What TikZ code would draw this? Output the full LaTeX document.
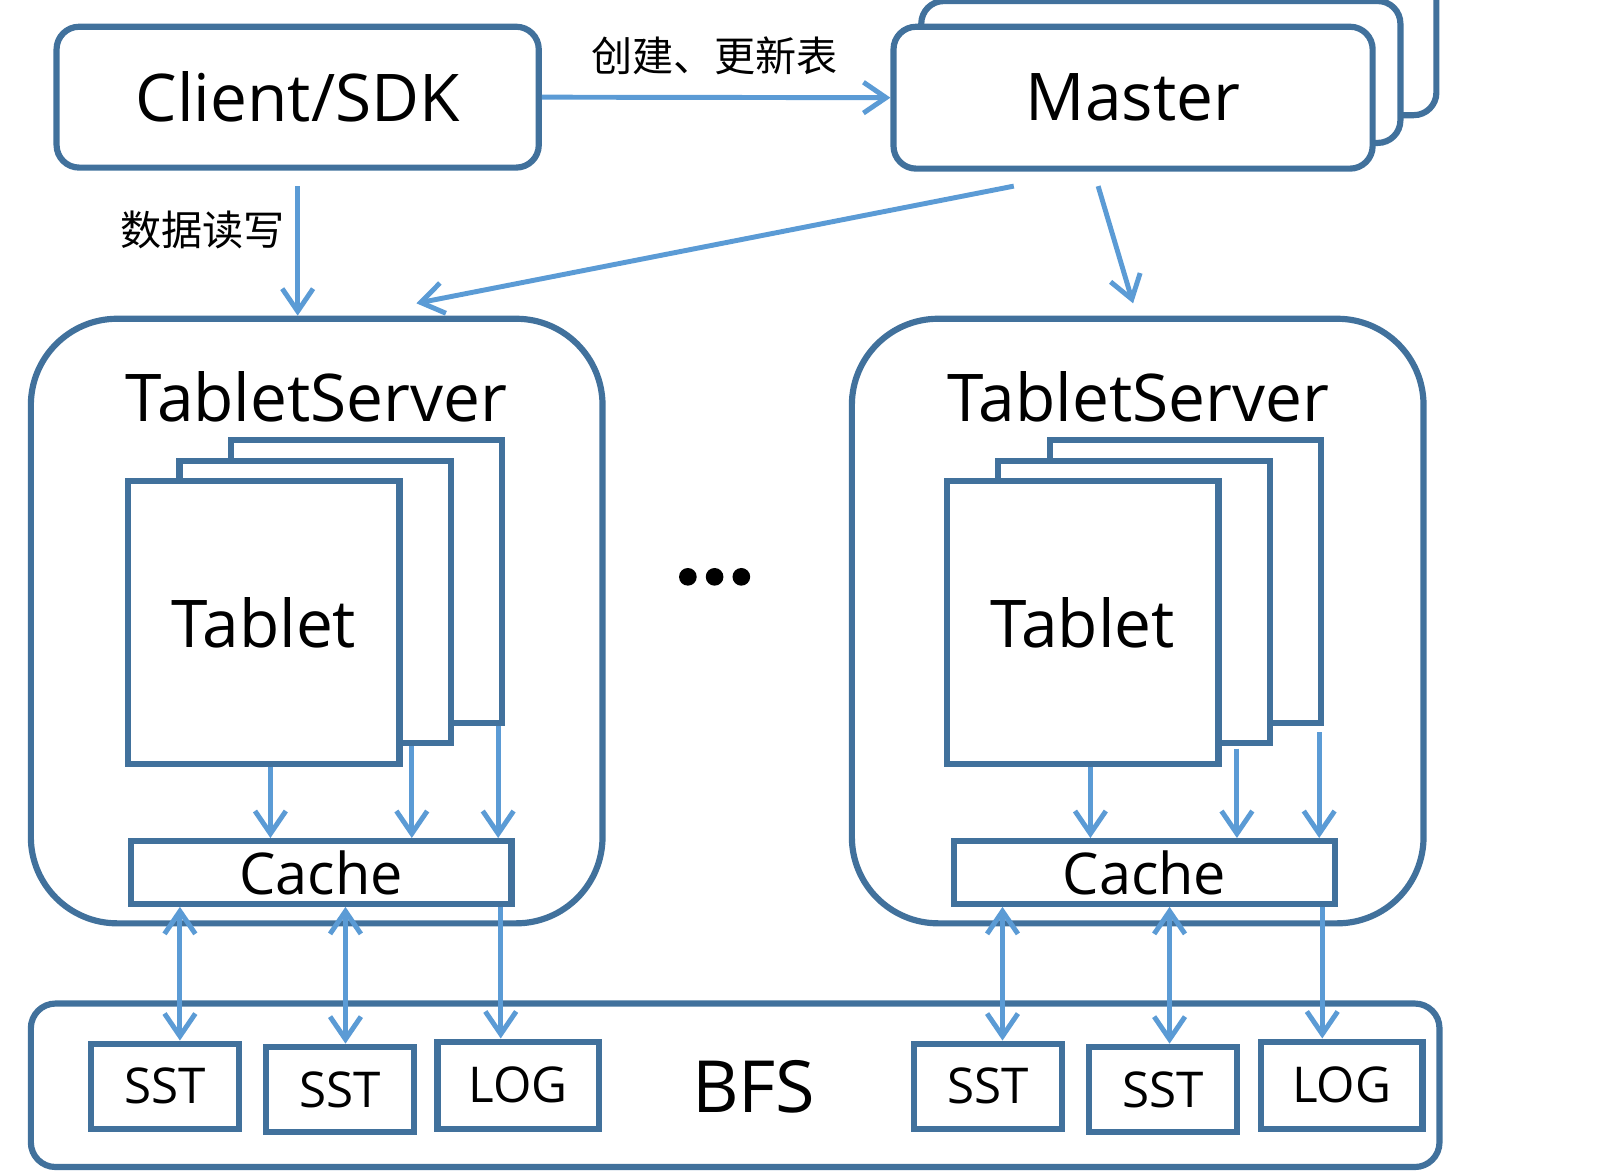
\documentclass[tikz,border=0pt]{standalone}
\usepackage{fontspec}
\setmainfont{Open Sans}
\newfontfamily\cjk{Noto Sans CJK SC}
\usetikzlibrary{arrows.meta}
\definecolor{boxblue}{HTML}{41719C}
\definecolor{linkblue}{HTML}{5B9BD5}
\newcommand{\boxfont}{\fontsize{32pt}{38pt}\selectfont}
\newcommand{\cachefont}{\fontsize{28pt}{34pt}\selectfont}
\newcommand{\filefont}{\fontsize{24pt}{29pt}\selectfont}
\newcommand{\bfsfont}{\fontsize{35pt}{42pt}\selectfont}
\tikzset{
    round-box/.style = {draw=boxblue, fill=white, line width=3pt, rectangle, rounded corners=11pt, inner sep=0pt},
    server-box/.style = {round-box, rounded corners=42pt, minimum width=278pt, minimum height=294pt},
    flat-box/.style = {draw=boxblue, fill=white, line width=3pt, rectangle, inner sep=0pt},
    tablet-box/.style = {flat-box, minimum width=132pt, minimum height=137.5pt},
    cache-box/.style = {flat-box, minimum width=185pt, minimum height=30.5pt, font=\cachefont},
    sst-box/.style = {flat-box, minimum width=72pt, minimum height=41.5pt, font=\filefont},
    log-box/.style = {flat-box, minimum width=78.5pt, minimum height=42.5pt, font=\filefont},
    link/.style = {draw=linkblue, line width=2.4pt, -{Straight Barb[length=11pt,width=15pt]}},
    two-way/.style = {link, {Straight Barb[length=11pt,width=15pt]}-{Straight Barb[length=11pt,width=15pt]}},
    edge-label/.style = {font=\cjk\fontsize{20pt}{24pt}\selectfont, inner sep=0pt},
}

\begin{document}
\begin{tikzpicture}[x=0.5pt,y=-0.5pt]
\useasboundingbox (0,0) rectangle (1560,1142);

% client and master stack
\node[round-box, minimum width=234.5pt, minimum height=68.5pt, font=\boxfont] (client) at (289.5,94.5) {Client/SDK};
\node[round-box, minimum width=233pt, minimum height=69pt] (master3) at (1164,43) {};
\node[round-box, minimum width=233pt, minimum height=69pt] (master2) at (1129,70) {};
\node[round-box, minimum width=233pt, minimum height=69pt, font=\boxfont] (master) at (1102,95) {Master};

% tablet servers
\node[server-box] (tsL) at (308,604) {};
\node[font=\boxfont, anchor=base] (tsLname) at (308,410) {TabletServer};
\node[server-box] (tsR) at (1106.5,604) {};
\node[font=\boxfont, anchor=base] (tsRname) at (1107,410) {TabletServer};

\node[tablet-box] (tabL3) at (356.5,565.5) {};
\node[tablet-box] (tabL2) at (306.5,585.5) {};
\node[tablet-box, font=\boxfont] (tabL1) at (256.5,605.5) {Tablet};
\node[tablet-box] (tabR3) at (1153,565.5) {};
\node[tablet-box] (tabR2) at (1103,585.5) {};
\node[tablet-box, font=\boxfont] (tabR1) at (1053,605.5) {Tablet};

\node[cache-box] (cacheL) at (312.5,848.5) {Cache};
\node[cache-box] (cacheR) at (1113,848.5) {Cache};

\fill (669,561) circle (4.3pt) (695,561) circle (4.3pt) (721,561) circle (4.3pt);

% BFS
\node[round-box, rounded corners=12pt, minimum width=685pt, minimum height=79.5pt] (bfs) at (715,1055.5) {};
\node[font=\bfsfont] (bfsname) at (733,1057) {BFS};
\node[sst-box] (sstL1) at (160.5,1056.5) {SST};
\node[sst-box] (sstL2) at (330.5,1059.5) {SST};
\node[log-box] (logL) at (504,1055.5) {LOG};
\node[sst-box] (sstR1) at (961,1056.5) {SST};
\node[sst-box] (sstR2) at (1131,1059.5) {SST};
\node[log-box] (logR) at (1305,1055.5) {LOG};

% arrows
\draw[link] (client.east) -- (master.west);
\node[edge-label] (lblCreate) at (695,54) {创建、更新表};
\draw[link] ([yshift=-7.5pt]client.south) -- (client.south |- tsL.north);
\node[edge-label] (lblRW) at (197,224) {数据读写};
\draw[link] ([xshift=-58pt,yshift=-7pt]master.south) -- ([xshift=48.5pt,yshift=6pt]tsL.north);
\draw[link] ([xshift=-17pt,yshift=-7pt]master.south) -- ([xshift=-2.25pt,yshift=6pt]tsR.north);

\draw[link] ([xshift=3.25pt]tabL1.south) -- ([xshift=3.25pt]tabL1.south |- cacheL.north);
\draw[link] ([xshift=47pt]tabL2.south) -- ([xshift=47pt]tabL2.south |- cacheL.north);
\draw[link] ([xshift=64pt]tabL3.south) -- ([xshift=64pt]tabL3.south |- cacheL.north);
\draw[link] ([xshift=3.75pt]tabR1.south) -- ([xshift=3.75pt]tabR1.south |- cacheR.north);
\draw[link] ([xshift=50pt,yshift=-1pt]tabR2.south) -- ([xshift=50pt]tabR2.south |- cacheR.north);
\draw[link] ([xshift=65pt,yshift=-3pt]tabR3.south) -- ([xshift=65pt]tabR3.south |- cacheR.north);

\draw[two-way] ([xshift=7.25pt]sstL1.north |- cacheL.south) -- ([xshift=7.25pt]sstL1.north);
\draw[two-way] ([xshift=2.75pt]sstL2.north |- cacheL.south) -- ([xshift=2.75pt]sstL2.north);
\draw[link] ([xshift=-8.5pt]logL.north |- cacheL.south) -- ([xshift=-8.5pt]logL.north);
\draw[two-way] ([xshift=7pt]sstR1.north |- cacheR.south) -- ([xshift=7pt]sstR1.north);
\draw[two-way] ([xshift=3.25pt]sstR2.north |- cacheR.south) -- ([xshift=3.25pt]sstR2.north);
\draw[link] ([xshift=-9.5pt]logR.north |- cacheR.south) -- ([xshift=-9.5pt]logR.north);
\end{tikzpicture}
\end{document}
